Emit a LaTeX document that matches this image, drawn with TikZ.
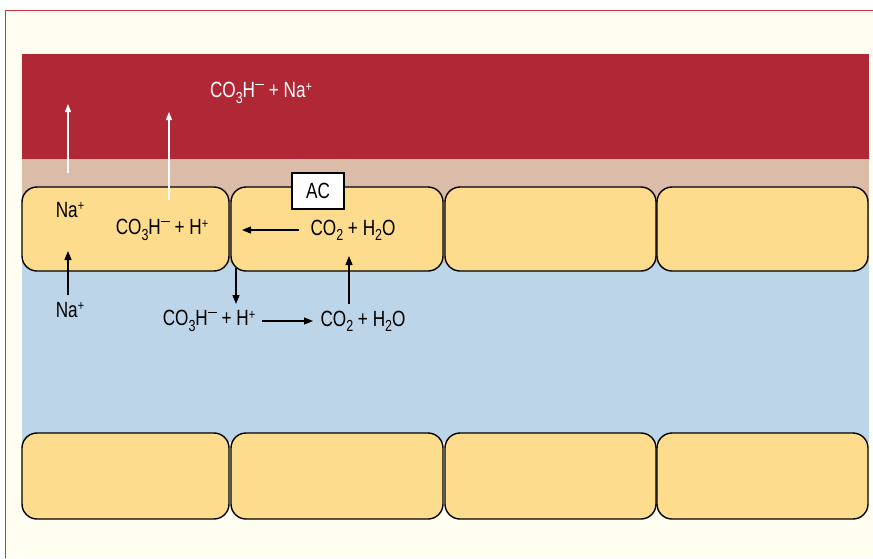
\documentclass[tikz,border=0pt]{standalone}
\usepackage{fontspec}
\setmainfont[FakeStretch=0.78]{Liberation Sans}
\usetikzlibrary{arrows.meta}
\definecolor{cream}{HTML}{FFFEF1}
\definecolor{frame}{HTML}{D0303E}
\definecolor{blood}{HTML}{B02735}
\definecolor{tan}{HTML}{DBBCA8}
\definecolor{lumen}{HTML}{BDD5E8}
\definecolor{cellc}{HTML}{FEDC8E}
\newcommand{\lo}[1]{\raisebox{-0.45ex}{\fontsize{16}{16}\selectfont #1}}
\newcommand{\hi}[1]{\raisebox{0.6ex}{\fontsize{14}{14}\selectfont #1}}
\newcommand{\mns}{\raisebox{1.1ex}{\fontsize{20}{20}\selectfont\rule{9pt}{1.3pt}}}
\begin{document}
\begin{tikzpicture}[x=1pt,y=-1pt,
  cellbox/.style={draw=black,line width=1.4pt,fill=cellc,rounded corners=15pt,inner sep=0pt},
  lbl/.style={inner sep=0pt,font=\fontsize{22}{26}\selectfont},
  wlbl/.style={lbl,text=white},
  blk/.style={line width=1.3pt,-{Triangle[length=9pt,width=7pt]}},
  wht/.style={draw=white,line width=1.2pt,-{Triangle[length=8pt,width=6pt]}}]
\useasboundingbox (0,0) rectangle (873,558);
% background
\fill[white] (0,0) rectangle (873,558);
\fill[cream] (5,10) rectangle (873,558);
\draw[frame,line width=1pt] (873,10) -- (5,10) -- (5,558);
% bands
\fill[blood] (22,54) rectangle (869,159);
\fill[tan] (22,159) rectangle (869,263);
\fill[lumen] (22,263) rectangle (869,442);
% top row cells
\node[cellbox,minimum width=207pt,minimum height=84pt] (c1) at (125.5,229) {};
\node[cellbox,minimum width=212pt,minimum height=84pt] (c2) at (337,229) {};
\node[cellbox,minimum width=211pt,minimum height=84pt] (c3) at (550.5,229) {};
\node[cellbox,minimum width=211pt,minimum height=84pt] (c4) at (762.5,229) {};
% bottom row cells
\node[cellbox,minimum width=207pt,minimum height=86pt] (d1) at (125.5,476) {};
\node[cellbox,minimum width=212pt,minimum height=86pt] (d2) at (337,476) {};
\node[cellbox,minimum width=211pt,minimum height=86pt] (d3) at (550.5,476) {};
\node[cellbox,minimum width=211pt,minimum height=86pt] (d4) at (762.5,476) {};
% AC box
\node[draw=black,line width=1.2pt,fill=white,minimum width=52pt,minimum height=36pt,inner sep=0pt,font=\fontsize{22}{26}\selectfont] (ac) at (318,191) {AC};
% texts
\node[wlbl] (blood) at (261,93) {CO\lo{3}H\mns\ + Na\hi{+}};
\node[lbl] (na1) at (70,210) {Na\hi{+}};
\node[lbl] (bic1) at (162,230) {CO\lo{3}H\mns\ + H\hi{+}};
\node[lbl] (co2a) at (353,230) {CO\lo{2} + H\lo{2}O};
\node[lbl] (na2) at (70,310) {Na\hi{+}};
\node[lbl] (bic2) at (209,321) {CO\lo{3}H\mns\ + H\hi{+}};
\node[lbl] (co2b) at (363,321) {CO\lo{2} + H\lo{2}O};
% coordinates
\coordinate (w1s) at (68,173);
\coordinate (w1e) at (68,104);
\coordinate (w2s) at (169,200);
\coordinate (w2e) at (169,112);
\coordinate (a1s) at (299,230);
\coordinate (a1e) at (242,230);
\coordinate (a2s) at (349,304);
\coordinate (a2e) at (349,256);
\coordinate (a3s) at (236,268);
\coordinate (a3e) at (236,304);
\coordinate (a4s) at (68,295);
\coordinate (a4e) at (68,251);
\coordinate (a5s) at (262,321);
\coordinate (a5e) at (313,321);
% arrows
\draw[wht] (w1s) -- (w1e);
\draw[wht] (w2s) -- (w2e);
\draw[blk] (a1s) -- (a1e);
\draw[blk] (a2s) -- (a2e);
\draw[blk] (a3s) -- (a3e);
\draw[blk] (a4s) -- (a4e);
\draw[blk] (a5s) -- (a5e);
\end{tikzpicture}
\end{document}
